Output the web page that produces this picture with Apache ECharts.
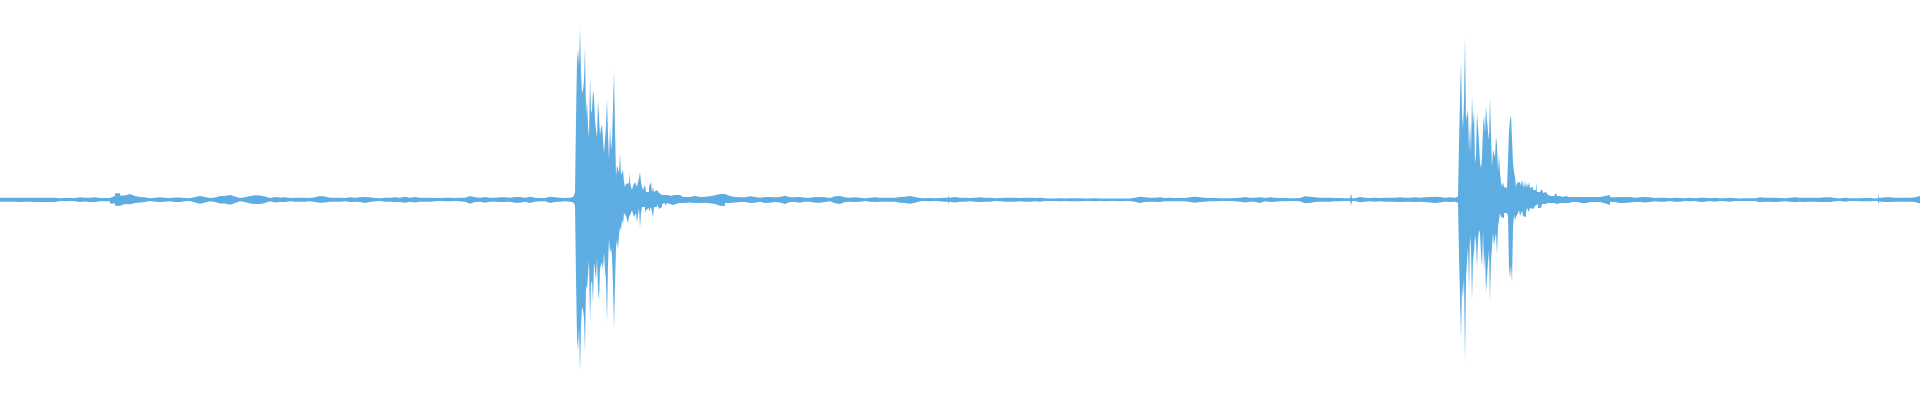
<!DOCTYPE html>
<html>
<head>
<meta charset="utf-8">
<script src="https://cdn.jsdelivr.net/npm/echarts@6/dist/echarts.min.js"></script>
<style>
html,body{margin:0;padding:0;background:#ffffff;}
#chart{width:1920px;height:400px;}
</style>
</head>
<body>
<div id="chart"></div>
<script>
// Waveform envelope, amplitude in units where full scale = 200.
// Each segment: first sample index, sample spacing, upper (positive) peaks, lower (negative) peaks.

// quiet part 0..565, every 5 samples
const quietAStart = 0, quietAStep = 5;
const quietAUpper = [
  2.3,2.3,2.3,2.3,2.3,2.3,2.3,2.3,2.3,2.3,
  2.3,1.7,2,2,2,2.7,2.3,2.3,2.7,2,
  2,2,4,6.7,4.5,6,4,3,2.7,1.7,
  2.3,2.7,2.3,2,2.5,2.5,2,1.7,3,4,
  3,2,2.5,4,4,5,3.5,2,2.7,4,
  4.7,4.5,3.5,2,3,2.5,2.7,2,2.3,2.3,
  2.3,2,2.7,4,3.5,2.3,2.3,2.3,2,2.7,
  2.3,2.7,3,2.7,2,1.7,2.3,2.3,2.7,2.3,
  3.3,2.3,3,2.3,2.3,2.3,2,2,2.3,2.3,
  2,2.3,2.3,4,2.7,2.3,3,2.3,2.3,2.7,
  2.7,2.3,3,3,2.3,3.3,2.3,2,2,3.3,
  2.7,2.3,2,2.3
];
const quietALower = [
  1.7,1.7,1.7,2,1.7,1.7,2,2,2,2,
  2,1,1.3,1,1.3,2,1.5,2,2,1.3,
  1.3,1.3,3.5,5.7,4,4.3,3,2.5,2,1,
  1.7,2,1.7,1.3,2,2,1.3,1,2.5,3.7,
  2.5,1.3,2,3.5,3.5,4.7,3,1.3,2,3.5,
  4,4,3,1.3,2.5,2,2,1.3,1.7,1.7,
  1.7,1.3,2,2.7,2.5,1.7,1.7,1.7,1.3,2,
  1.7,2,3,2,1.3,1,1.7,1.7,2,2,
  2.7,1.7,2.5,1.7,1.7,1.7,1.3,1,1.3,1.3,
  1,1.3,1.7,3.7,2,1.7,2.7,1.7,1.7,2,
  2,1.7,2.7,2.7,1.7,3,1.7,1.3,1.3,3,
  2,1.7,1.3,1.7
];

// onset of the first hit 570..575, every sample
const rampStart = 570, rampStep = 1;
const rampUpper = [2.7,2.7,3,3.5,5,7];
const rampLower = [2,2,2.3,2.7,4,5];

// first hit 576..684, every sample
const hit1Start = 576, hit1Step = 1;
const hit1Upper = [
  80,140,150,133,172,128,107,110,120,153,
  85,100,75,62,124,87,90,110,103,80,
  70,62,100,101,65,72,75,73,47,60,
  75,101,65,40,75,50,60,92,129,73,
  23,35,37,27,47,25,23,30,18,13,
  16,18,17,27,18,13,10,14,15,18,
  20,13,18,22,28,18,13,10,12,15,
  8,7,8,13,12,18,8,13,8,7,
  10,12,8,7,6,5,6,4,5,7,
  6,5,5,7,4,3,5,5,6,4,
  5,7,3,5,7,3,3,4,5
];
const hit1Lower = [
  78,138,150,127,172,127,107,110,118,152,
  85,90,75,60,123,85,80,103,63,70,
  80,58,90,100,68,65,62,70,52,70,
  80,123,65,38,53,48,55,85,128,85,
  47,40,50,35,27,30,20,24,13,15,
  16,18,23,17,15,13,10,14,17,18,
  13,22,15,8,28,13,7,7,7,13,
  10,8,8,12,10,7,8,17,7,8,
  7,4,6,9,9,7,4,5,3,6,
  4,3,3,4,3,4,5,3,5,4,
  3,4,3,3,4,3,3,4,3
];

// quiet part 685..1450, every 5 samples
const quietBStart = 685, quietBStep = 5;
const quietBUpper = [
  3,4,3,3.3,3.7,4.7,6,6,4,3,
  2.7,2.7,3.7,3,2.3,3,3,2.7,3,4.3,
  2.7,2.7,3,2.3,2.3,3,3,2.7,2,3.7,
  4,2.7,2.3,2.7,2.3,1.7,2.3,2.7,2.3,2.3,
  2.3,2.3,3,3.3,4,3,2,1.7,2,1.7,
  2,2.3,2.3,3,2.3,2.3,2,2.3,2.7,2.3,
  2.3,1.7,2,2.3,2.3,2.3,2,2.3,2.3,2,
  2.3,1.7,1.5,1.5,1.7,1.5,1.7,1.7,1.7,1.5,
  1.5,1.7,1.5,1.5,1.5,1.5,1.5,1.5,1.5,2.3,
  3.3,2.7,2.3,2.3,2.7,2,2.3,2,2,2,
  2.7,3.3,2.7,2.3,2,2,1.7,1.7,1.7,2,
  2.3,3,2.3,2.3,2.7,2,2.7,2.3,2,2,
  1.7,1.7,2,3.7,3.3,2.7,2.3,2.3,2.3,2,
  2,1.7,1.7,1.7,3,2.3,2,2.3,2,2.3,
  2.3,2.3,2.7,2.3,2.3,2.7,2.3,2.7,3,3.3,
  3,2.3,2.7,2.3
];
const quietBLower = [
  2.5,3,3,2.7,3.3,4,5.7,6,3,2.5,
  2,2,3,2.7,1.7,3,2.7,2,2.5,4,
  2,2,2.7,1.7,1.7,2.7,2.7,2,1.3,3.3,
  4,2,1.7,2,1.7,1,1.7,2,1.7,1.7,
  1.7,1.7,2.7,3,3.7,2.7,1.3,1,1.3,1,
  1.3,1.7,1.7,2.5,1.7,1.7,1.3,1.7,2,1.7,
  1.7,1,1.3,1.7,1.7,1.7,1.3,1.7,1.7,1.3,
  1.7,1,1,1,1.3,1,1.3,1.3,1.3,1,
  1,1.3,1,1.3,1,1,1.3,1,1,1.7,
  3,2,1.7,1.7,2,1.3,1.3,1.3,1.3,1.3,
  2,2.7,2,1.7,1.3,1.3,1,1,1,1.3,
  1.7,2.5,1.7,1.7,3,1.3,2,1.7,1.3,1.3,
  1,1,1.3,3.3,3,2,1.7,1.7,1.7,1.3,
  1.3,1,1,1,2.3,1.7,1.3,1.7,1.3,1.7,
  1.7,1.7,2,1.7,1.7,2,1.7,2,2.5,3,
  2.5,1.7,2,1.7
];

// second hit 1455..1589, every sample
const hit2Start = 1455, hit2Step = 1;
const hit2Upper = [
  3,3,3.5,5,57,100,139,87,72,100,
  162,80,78,90,48,77,47,104,75,90,
  37,45,88,73,57,37,32,43,72,85,
  67,93,93,68,60,103,65,33,50,48,
  43,63,55,28,45,27,18,13,18,13,
  12,12,13,12,68,80,85,83,37,28,
  23,13,17,15,18,16,14,20,20,12,
  19,12,17,13,18,12,12,13,10,8,
  10,18,8,7,8,7,8,11,7,6,
  8,10,7,5,6,4,4,5,4,3,
  5,7,4,3,4,3,5,3,4,3,
  4,3,4,3,3,4,3,3,5,3,
  3,4,3,3,4,3,3,4,3,3,
  4,3,3,4,3
];
const hit2Lower = [
  2.3,2.5,2.7,4,56,97,138,85,98,77,
  162,78,62,47,90,35,48,100,60,52,
  35,43,68,40,30,33,53,67,30,70,
  53,93,92,62,50,102,60,47,33,45,
  47,33,55,27,20,13,17,15,18,13,
  15,13,12,16,68,78,65,83,27,15,
  20,17,18,13,10,16,18,11,16,14,
  17,12,8,9,12,8,7,9,8,7,
  6,8,4,8,7,8,7,4,6,4,
  5,4,3,3,3,3,3,3,3,3,
  3,4,3,3,3,2,3,3,2,2,
  3,2,3,3,2,3,2,2,3,2,
  2,3,2,2,2,3,2,2,3,2,
  2,3,2,2,2
];

// quiet part 1590..1920, every 5 samples
const quietCStart = 1590, quietCStep = 5;
const quietCUpper = [
  3,3,4,5,2.7,3,3,3,2.3,2.7,
  3,2.7,2,2.3,2.3,1.7,2.3,2,1.7,2.3,
  1.7,2.3,2.3,1.7,2.3,1.7,1.7,2.3,1.7,1.5,
  1.7,1.7,1.7,2.7,2.3,2.3,2.3,2,1.7,2.3,
  2.7,2.3,2.3,2.3,2.3,2.3,2.7,2.7,2,1.5,
  2.3,1.7,1.7,1.7,2,2,1.5,1.7,2.7,2.7,
  2.3,2.3,2.3,2.3,2.7,4,4
];
const quietCLower = [
  2,2,3.3,5,2,3,3,2.5,2,2,
  2.5,2,1.3,1.7,1.7,1,1.7,1.7,1,1.3,
  1,2,1.7,1,1.7,1,1.3,1.7,1,1,
  1,1,1,2.3,1.7,1.7,2,1.7,1.3,1.7,
  2.3,1.7,2,1.7,1.7,2,2,2,1.3,1,
  1.7,1,1,1.3,1.3,1.3,1,1,2,2,
  1.7,1.7,1.7,1.7,2,3.5,3.5
];

// isolated single-sample clicks (peak sample, then back to the floor)
const click1Start = 948, click1Upper = [5, 2.3], click1Lower = [4.7, 1.7];
const click2Start = 1351, click2Upper = [6.3, 1.7], click2Lower = [5.7, 1];
const click3Start = 1878, click3Upper = [6, 2], click3Lower = [5, 1.5];

const segments = [
  [quietAStart, quietAStep, quietAUpper, quietALower],
  [rampStart, rampStep, rampUpper, rampLower],
  [hit1Start, hit1Step, hit1Upper, hit1Lower],
  [quietBStart, quietBStep, quietBUpper, quietBLower],
  [hit2Start, hit2Step, hit2Upper, hit2Lower],
  [quietCStart, quietCStep, quietCUpper, quietCLower],
  [click1Start, 1, click1Upper, click1Lower],
  [click2Start, 1, click2Upper, click2Lower],
  [click3Start, 1, click3Upper, click3Lower]
];

const upperPts = [], lowerPts = [];
segments.forEach(function (s) {
  const start = s[0], step = s[1], up = s[2], lo = s[3];
  for (let i = 0; i < up.length; i++) {
    upperPts.push([start + i * step, up[i]]);
    lowerPts.push([start + i * step, -lo[i]]);
  }
});
upperPts.sort(function (a, b) { return a[0] - b[0]; });
lowerPts.sort(function (a, b) { return a[0] - b[0]; });

const color = '#5dade2';
const chart = echarts.init(document.getElementById('chart'), null, {renderer: 'canvas'});
const common = {
  type: 'line',
  step: 'end',
  showSymbol: false,
  symbol: 'none',
  silent: true,
  sampling: null,
  lineStyle: {opacity: 0, width: 0},
  areaStyle: {color: color, opacity: 1},
  itemStyle: {color: color}
};
chart.setOption({
  animation: false,
  backgroundColor: '#ffffff',
  grid: {left: 0, right: 0, top: 0, bottom: 0},
  xAxis: {type: 'value', min: 0, max: 1920, show: false},
  yAxis: {type: 'value', min: -200, max: 200, show: false},
  series: [
    Object.assign({}, common, {name: 'upper', data: upperPts}),
    Object.assign({}, common, {name: 'lower', data: lowerPts})
  ]
});
</script>
</body>
</html>
